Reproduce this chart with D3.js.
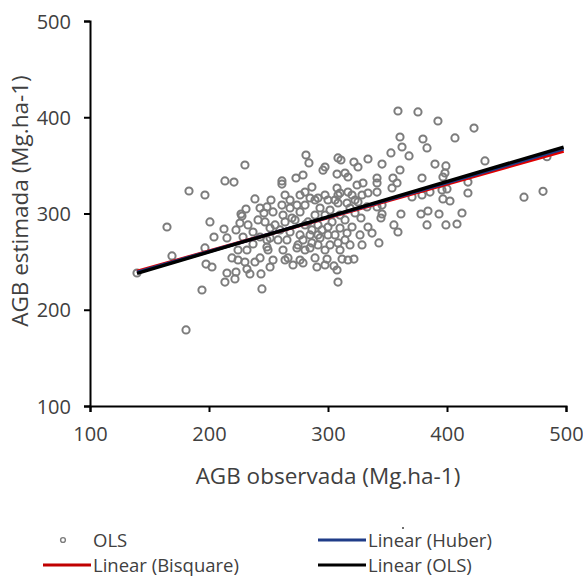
<!DOCTYPE html>
<meta charset="utf-8">
<style>
body { margin: 0; background: #fff; }
text { font-family: "Open Sans", sans-serif; fill: #404040; }
.point { fill: none; stroke: #7c7c7c; stroke-width: 2px; }
.axis path, .axis line { stroke: #000; stroke-width: 2px; }
</style>
<body>
<script src="https://cdn.jsdelivr.net/npm/d3@7"></script>
<script>

var width = 583;
var height = 576;

// AGB observada vs AGB estimada (Mg.ha-1)
var olsPoints = [
  [281.5,360.8],[284,352.5],[230.2,350.4],[213.4,333.8],[221,332.7],[261.3,333.8],[261.3,330.6],
  [273.1,336.9],[279,340],[286.5,327.5],[183.2,323.4],[196.6,319.2],[238.6,315.1],[252.1,314],
  [242.9,305.7],[248.7,306.8],[253.8,301.6],[231.1,304.7],[226.9,299.5],[268.1,305.7],[276.5,319.2],
  [280.7,322.3],[284.9,316.1],[164.7,286],[168.9,255.9],[139.5,238.2],[200.8,291.2],[204.2,275.6],
  [212.6,283.9],[215.1,274.6],[222.7,282.9],[232.8,288.1],[241.2,293.3],[196.6,264.2],[197.5,247.5],
  [202.5,244.4],[219.3,253.8],[224.4,251.7],[215.1,238.2],[222.7,239.2],[213.4,228.8],[221.8,232],
  [231.9,242.3],[234.4,237.2],[243.7,237.2],[194.1,220.5],[244.5,221.6],[180.7,179],[249.6,262.1],
  [253.8,251.7],[248.7,272.5],[227.7,297.4],[226,290.1],[224.4,262.1],[231.9,262.1],[237,268.3],
  [242.9,253.8],[248.7,265.2],[251.3,244.4],[238.6,249.6],[228.6,275.6],[237,280.8],[242.9,275.6],
  [251.3,274.6],[246.2,300.5],[230.2,249.6],
  [295.8,345],[307.6,341],[314.3,342],[307.6,326.5],[308.4,319.2],[297.5,348.3],[308.4,357.7],
  [310.9,355.6],[316.8,337.9],[321.8,353.5],[325.2,348.3],[333.6,356.6],[345.4,351.4],[352.9,362.9],
  [358.8,406.5],[375.6,405.5],[392.4,396.1],[422.7,388.8],[360.5,379.5],[379.8,377.4],[406.7,378.5],
  [362.2,369.1],[383.2,368.1],[368.1,359.8],[360.5,345.2],[389.9,351.4],[399.1,349.4],[398.3,342.1],
  [396.6,337.9],[431.9,354.6],[354.6,336.9],[358,331.7],[379,336.9],[341.2,336.9],[341.2,331.7],
  [329.4,331.7],[324.4,329.6],[316.8,322.3],[310.1,321.3],[320.2,319.2],[328.6,319.2],[333.6,321.3],
  [341.2,322.3],[353.8,326.5],[417.6,332.7],[417.6,321.3],[395.8,324.4],[400,325.5],[396.6,315.1],
  [402.5,313],[370.6,317.2],[379,319.2],[385.7,322.3],[412.6,300.5],[361.3,299.5],[378.1,299.5],
  [384,302.6],[393.3,299.5],[345.4,299.5],[341.2,306.8],[332.8,306.8],[325.2,312],[345.4,308.8],
  [291.6,316.1],[300,314],[308.4,310.9],[316,310.9],[322.7,300.5],
  [484,359],[480.7,323],[464.7,317],
  [383.2,288.1],[399.1,288.1],[408.4,289.1],[355.4,288.1],[358.8,280.8],[342.8,269.4],[337,279.7],
  [326.9,277.7],[344.5,295.3],[327.7,295.3],[321.8,252.7],[311.8,252.7],[305,245.5],[299.2,252.7],
  [290.7,244.4],[308.4,228.8],[316,279.7],[308.4,269.4],[310.1,284.9],[300,286],[320.2,286],[333.6,286],
  [263.9,291.2],[265.5,272.5],[263.9,251.7],[270.6,246.5],[273.9,264.2],[279,248.6],[289.1,253.8],
  [284.9,277.7],[286.5,269.4],[276.5,277.7],[280.7,288.1],[268.1,280.8],
  [263.9,319.2],[268.1,314],[273.9,308.8],[276.5,301.6],[280.7,308.8],[289.1,298.4],[293.3,305.7],
  [297.5,298.4],[301.7,303.6],[262.2,298.4],[269.7,295.3],[272.3,293.3],[283.2,291.2],[291.6,288.1],
  [294.9,282.9],[300,277.7],[303.4,291.2],[259.7,282.9],[274.8,267.3],[280.7,262.1],[291.6,267.3],
  [297.5,262.1],[301.7,267.3],[262.2,262.1],[266.4,253.8],[297.5,246.5],[305.9,277.7],[310.1,298.4],
  [314.3,293.3],[318.5,305.7],[261.3,308.8],[255.5,288.1],[258,272.5],[251.3,284.9],[247.1,291.2],
  [276.5,251.7],[307.6,241.3],[316.8,251.7],[286.5,282.9],[291.6,277.7],[279,272.5],[284.9,264.2],
  [293.3,274.6],[310.1,262.1],[314.3,272.5],[318.5,267.3],[328.6,267.3],[297.5,319.2],[289.1,314],
  [305.9,314],[322.7,314]
];

// trend lines y = a + b*x, drawn over the observed range
var trendNames = ["Linear (Bisquare)", "Linear (Huber)", "Linear (OLS)"];
var trendIntercepts = [191.1, 189.0, 186.8];
var trendSlopes = [0.349, 0.3575, 0.366];
var trendRange = [139.5, 498];

var xTicks = [100, 200, 300, 400, 500];
var yTicks = [100, 200, 300, 400, 500];

var trendColors = ["#e00000", "#1f3c88", "#000000"];

var svg = d3.select("body").append("svg")
    .attr("width", width)
    .attr("height", height);

var x = d3.scaleLinear().domain([100, 500]).range([90, 566]);
var y = d3.scaleLinear().domain([100, 500]).range([406, 21]);

// points
svg.append("g")
  .selectAll("circle")
  .data(olsPoints)
  .enter().append("circle")
    .attr("class", "point")
    .attr("r", 3.6)
    .attr("cx", function(d) { return x(d[0]); })
    .attr("cy", function(d) { return y(d[1]); });

// trend lines (bisquare under, OLS on top)
var line = d3.line()
    .x(function(d) { return x(d[0]); })
    .y(function(d) { return y(d[1]); });

svg.append("g")
  .selectAll("path")
  .data(trendNames)
  .enter().append("path")
    .attr("fill", "none")
    .attr("stroke", function(d, i) { return trendColors[i]; })
    .attr("stroke-width", 3.4)
    .attr("d", function(d, i) {
      return line(trendRange.map(function(v) {
        return [v, trendIntercepts[i] + trendSlopes[i] * v];
      }));
    });

// axes
var xAxis = svg.append("g")
    .attr("class", "axis")
    .attr("transform", "translate(0," + y(100) + ")")
    .call(d3.axisBottom(x).tickValues(xTicks).tickSize(6).tickPadding(15));
var yAxis = svg.append("g")
    .attr("class", "axis")
    .attr("transform", "translate(" + x(100) + ",0)")
    .call(d3.axisLeft(y).tickValues(yTicks).tickSize(6).tickPadding(13));

svg.selectAll(".axis text")
    .style("font-size", "20px")
    .style("font-family", "Open Sans, sans-serif")
    .attr("fill", "#404040");
yAxis.selectAll("text").attr("dy", "0.35em");

svg.append("text")
    .attr("x", 328)
    .attr("y", 484)
    .attr("text-anchor", "middle")
    .style("font-size", "22.5px")
    .text("AGB observada (Mg.ha-1)");

svg.append("text")
    .attr("transform", "translate(28,201) rotate(-90)")
    .attr("text-anchor", "middle")
    .style("font-size", "22.5px")
    .text("AGB estimada (Mg.ha-1)");

// legend
var legend = svg.append("g").style("font-size", "18.5px");

legend.append("circle")
    .attr("cx", 63).attr("cy", 540).attr("r", 2.4)
    .attr("fill", "none").attr("stroke", "#7c7c7c").attr("stroke-width", 1.4);
legend.append("text").attr("x", 93).attr("y", 547).text("OLS");

var legendItems = [
  { i: 0, x: 43, y: 565 },
  { i: 1, x: 318, y: 540 },
  { i: 2, x: 318, y: 565 }
];
legendItems.forEach(function(d) {
  legend.append("line")
      .attr("x1", d.x).attr("x2", d.x + 48)
      .attr("y1", d.y).attr("y2", d.y)
      .attr("stroke", d.i === 0 ? "#c00000" : trendColors[d.i])
      .attr("stroke-width", 3);
  legend.append("text")
      .attr("x", d.x + 50).attr("y", d.y + 7)
      .text(trendNames[d.i]);
});

legend.append("circle")
    .attr("cx", 403).attr("cy", 528).attr("r", 1)
    .attr("fill", "#404040");

</script>
</body>
</html>
